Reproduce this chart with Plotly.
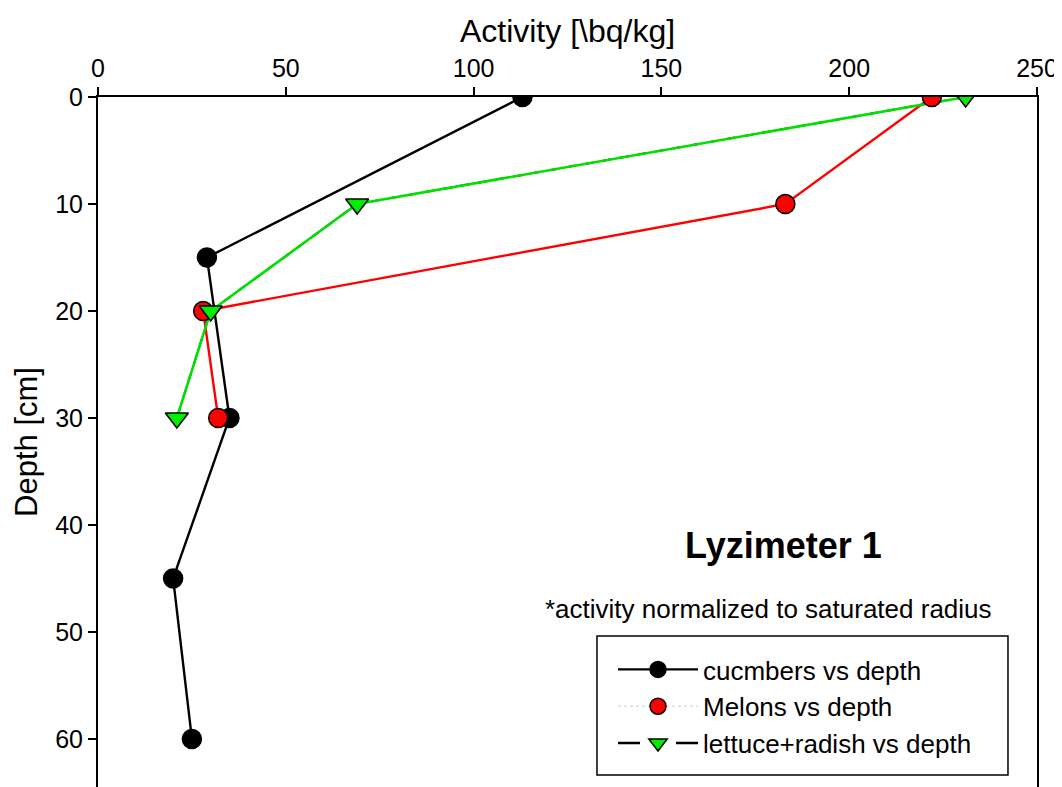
import plotly.graph_objects as go

# Data
cuc_activity = [113, 29, 35, 20, 25]
cuc_depth = [0, 15, 30, 45, 60]
mel_activity = [222, 183, 28, 32]
mel_depth = [0, 10, 20, 30]
let_activity = [231, 69, 30, 21]
let_depth = [0, 10, 20, 30]
x_ticks = [0, 50, 100, 150, 200, 250]
y_ticks = [0, 10, 20, 30, 40, 50, 60]

FONT = "Liberation Sans, Arial, sans-serif"
MS = 19
LW = 2.4
fig = go.Figure()

# cucumbers
fig.add_trace(go.Scatter(x=cuc_activity, y=cuc_depth, mode="lines+markers",
                         line=dict(color="black", width=LW),
                         marker=dict(symbol="circle", size=MS, color="black",
                                     line=dict(color="black", width=1.5)),
                         showlegend=False))
# lettuce black dashed base line
fig.add_trace(go.Scatter(x=let_activity, y=let_depth, mode="lines",
                         line=dict(color="black", width=2, dash="dash"),
                         showlegend=False))
# red & green overlay lines
fig.add_trace(go.Scatter(x=mel_activity, y=mel_depth, mode="lines",
                         line=dict(color="#ff0000", width=LW), showlegend=False))
fig.add_trace(go.Scatter(x=let_activity, y=let_depth, mode="lines",
                         line=dict(color="#00e000", width=2.6), showlegend=False))
# markers
fig.add_trace(go.Scatter(x=mel_activity, y=mel_depth, mode="markers",
                         marker=dict(symbol="circle", size=MS, color="#ff0000",
                                     line=dict(color="black", width=1.5)),
                         showlegend=False))
fig.add_trace(go.Scatter(x=let_activity, y=let_depth, mode="markers",
                         marker=dict(symbol="triangle-down", size=MS + 1, color="#00ee00",
                                     line=dict(color="black", width=1.5)),
                         showlegend=False))

# legend entries
fig.add_trace(go.Scatter(x=[None], y=[None], mode="lines+markers", name="cucmbers vs depth",
                         line=dict(color="black", width=LW),
                         marker=dict(symbol="circle", size=MS, color="black",
                                     line=dict(color="black", width=1.5))))
fig.add_trace(go.Scatter(x=[None], y=[None], mode="lines+markers", name="Melons vs depth",
                         line=dict(color="#dddddd", width=1.5, dash="dot"),
                         marker=dict(symbol="circle", size=MS, color="#ff0000",
                                     line=dict(color="black", width=1.5))))
fig.add_trace(go.Scatter(x=[None], y=[None], mode="lines+markers", name="lettuce+radish vs depth",
                         line=dict(color="black", width=LW, dash="22px,36px,22px"),
                         marker=dict(symbol="triangle-down", size=MS + 1, color="#00ee00",
                                     line=dict(color="black", width=1.5))))

fig.add_annotation(x=182.5, y=41.9, xref="x", yref="y", text="<b>Lyzimeter 1</b>",
                   showarrow=False, font=dict(family=FONT, size=36, color="black"))
fig.add_annotation(x=178.4, y=47.85, xref="x", yref="y",
                   text="*activity normalized to saturated radius",
                   showarrow=False, font=dict(family=FONT, size=26, color="black"))

# legend frame
fig.add_shape(type="rect", xref="paper", yref="paper",
              x0=0.5314, x1=0.9691, y0=0.0174, y1=0.2188,
              line=dict(color="black", width=1.5), fillcolor="rgba(0,0,0,0)")

fig.update_layout(
    width=1054, height=779,
    margin=dict(l=90, r=25, t=89, b=0),
    paper_bgcolor="white", plot_bgcolor="white",
    font=dict(family=FONT, size=25, color="black"),
    legend=dict(x=(613 - 98) / 939, y=1 - (646 - 97) / 690, xanchor="left", yanchor="top",
                borderwidth=0, bgcolor="rgba(0,0,0,0)",
                font=dict(family=FONT, size=26), itemwidth=80,
                tracegroupgap=0),
    xaxis=dict(side="top", range=[0, 250], tickvals=x_ticks,
               showgrid=False, zeroline=False, showline=True, linecolor="black",
               linewidth=2, ticks="outside", ticklen=8, tickwidth=2, tickcolor="black",
               title=dict(text="Activity [\\bq/kg]", font=dict(size=32), standoff=2),
               tickfont=dict(size=25)),
    yaxis=dict(range=[64.49, 0], tickvals=y_ticks,
               showgrid=False, zeroline=False, showline=True, linecolor="black",
               linewidth=2, mirror=True, ticks="outside", ticklen=8, tickwidth=2,
               tickcolor="black",
               title=dict(text="Depth [cm]", font=dict(size=31), standoff=8),
               tickfont=dict(size=25)),
)

fig.write_html("out.html")
